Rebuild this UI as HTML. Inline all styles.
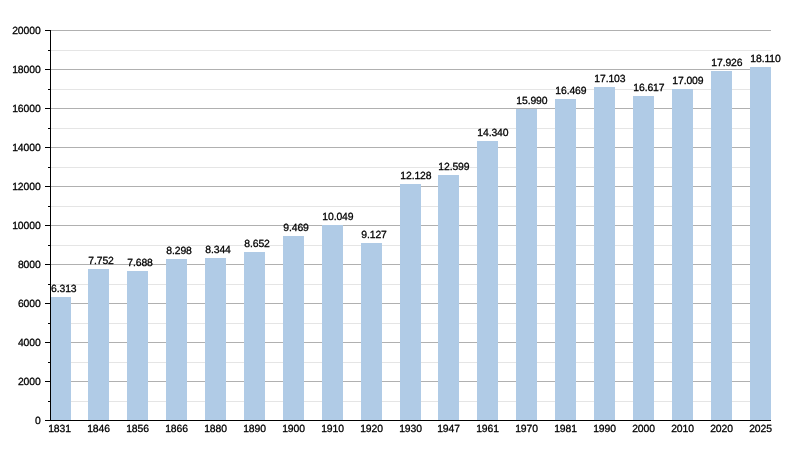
<!DOCTYPE html>
<html><head><meta charset="utf-8"><title>Chart</title>
<style>
html,body{margin:0;padding:0;background:#fff;}
body{width:800px;height:450px;overflow:hidden;}
svg{display:block;}
svg{will-change:transform;}
text{font-family:"Liberation Sans",sans-serif;font-size:10.4px;letter-spacing:-0.1px;fill:#000;stroke:#000;stroke-width:0.28px;text-rendering:geometricPrecision;}
</style></head><body>
<svg width="800" height="450" viewBox="0 0 800 450">
<rect width="800" height="450" fill="#fff"/>
<g shape-rendering="crispEdges">
<rect x="51" y="401.0" width="720" height="1" fill="#e5e5e5"/>
<rect x="51" y="381.0" width="720" height="1" fill="#b0b0b0"/>
<rect x="51" y="362.0" width="720" height="1" fill="#e5e5e5"/>
<rect x="51" y="342.0" width="720" height="1" fill="#b0b0b0"/>
<rect x="51" y="323.0" width="720" height="1" fill="#e5e5e5"/>
<rect x="51" y="303.0" width="720" height="1" fill="#b0b0b0"/>
<rect x="51" y="284.0" width="720" height="1" fill="#e5e5e5"/>
<rect x="51" y="264.0" width="720" height="1" fill="#b0b0b0"/>
<rect x="51" y="245.0" width="720" height="1" fill="#e5e5e5"/>
<rect x="51" y="225.0" width="720" height="1" fill="#b0b0b0"/>
<rect x="51" y="206.0" width="720" height="1" fill="#e5e5e5"/>
<rect x="51" y="186.0" width="720" height="1" fill="#b0b0b0"/>
<rect x="51" y="167.0" width="720" height="1" fill="#e5e5e5"/>
<rect x="51" y="147.0" width="720" height="1" fill="#b0b0b0"/>
<rect x="51" y="128.0" width="720" height="1" fill="#e5e5e5"/>
<rect x="51" y="108.0" width="720" height="1" fill="#b0b0b0"/>
<rect x="51" y="89.0" width="720" height="1" fill="#e5e5e5"/>
<rect x="51" y="69.0" width="720" height="1" fill="#b0b0b0"/>
<rect x="51" y="50.0" width="720" height="1" fill="#e5e5e5"/>
<rect x="51" y="30.0" width="720" height="1" fill="#b0b0b0"/>
</g>
<g fill="#b0cbe6">
<rect x="51.00" y="297.00" width="20.00" height="123.00"/>
<rect x="88.00" y="269.00" width="21.00" height="151.00"/>
<rect x="127.00" y="271.00" width="21.00" height="149.00"/>
<rect x="166.00" y="259.00" width="21.00" height="161.00"/>
<rect x="205.00" y="258.00" width="21.00" height="162.00"/>
<rect x="244.00" y="252.00" width="21.00" height="168.00"/>
<rect x="283.00" y="236.00" width="21.00" height="184.00"/>
<rect x="322.00" y="225.00" width="21.00" height="195.00"/>
<rect x="361.00" y="243.00" width="21.00" height="177.00"/>
<rect x="400.00" y="184.00" width="21.00" height="236.00"/>
<rect x="438.00" y="175.00" width="21.00" height="245.00"/>
<rect x="477.00" y="141.00" width="21.00" height="279.00"/>
<rect x="516.00" y="109.00" width="21.00" height="311.00"/>
<rect x="555.00" y="99.00" width="21.00" height="321.00"/>
<rect x="594.00" y="87.00" width="21.00" height="333.00"/>
<rect x="633.00" y="96.00" width="21.00" height="324.00"/>
<rect x="672.00" y="89.00" width="21.00" height="331.00"/>
<rect x="711.00" y="71.00" width="21.00" height="349.00"/>
<rect x="750.00" y="67.00" width="21.00" height="353.00"/>
</g>
<g>
<text x="51.00" y="291.70">6.313</text>
<text x="88.30" y="263.70">7.752</text>
<text x="127.30" y="265.70">7.688</text>
<text x="166.30" y="253.70">8.298</text>
<text x="205.30" y="252.70">8.344</text>
<text x="244.30" y="246.70">8.652</text>
<text x="283.30" y="230.70">9.469</text>
<text x="322.30" y="219.70">10.049</text>
<text x="361.30" y="237.70">9.127</text>
<text x="400.30" y="178.70">12.128</text>
<text x="438.30" y="169.70">12.599</text>
<text x="477.30" y="135.70">14.340</text>
<text x="516.30" y="103.70">15.990</text>
<text x="555.30" y="93.70">16.469</text>
<text x="594.30" y="81.70">17.103</text>
<text x="633.30" y="90.70">16.617</text>
<text x="672.30" y="83.70">17.009</text>
<text x="711.30" y="65.70">17.926</text>
<text x="750.30" y="61.70">18.110</text>
</g>
<g fill="#000" shape-rendering="crispEdges">
<rect x="50" y="30" width="1" height="391"/>
<rect x="45" y="420" width="726" height="1"/>
<rect x="48" y="401" width="2" height="1"/>
<rect x="45" y="381" width="5" height="1"/>
<rect x="48" y="362" width="2" height="1"/>
<rect x="45" y="342" width="5" height="1"/>
<rect x="48" y="323" width="2" height="1"/>
<rect x="45" y="303" width="5" height="1"/>
<rect x="48" y="284" width="2" height="1"/>
<rect x="45" y="264" width="5" height="1"/>
<rect x="48" y="245" width="2" height="1"/>
<rect x="45" y="225" width="5" height="1"/>
<rect x="48" y="206" width="2" height="1"/>
<rect x="45" y="186" width="5" height="1"/>
<rect x="48" y="167" width="2" height="1"/>
<rect x="45" y="147" width="5" height="1"/>
<rect x="48" y="128" width="2" height="1"/>
<rect x="45" y="108" width="5" height="1"/>
<rect x="48" y="89" width="2" height="1"/>
<rect x="45" y="69" width="5" height="1"/>
<rect x="48" y="50" width="2" height="1"/>
<rect x="45" y="30" width="5" height="1"/>
</g>
<g text-anchor="end">
<text x="40.6" y="424.4">0</text>
<text x="40.6" y="385.4">2000</text>
<text x="40.6" y="346.4">4000</text>
<text x="40.6" y="307.4">6000</text>
<text x="40.6" y="268.4">8000</text>
<text x="40.6" y="229.3">10000</text>
<text x="40.6" y="190.3">12000</text>
<text x="40.6" y="151.3">14000</text>
<text x="40.6" y="112.3">16000</text>
<text x="40.6" y="73.3">18000</text>
<text x="40.6" y="34.4">20000</text>
</g>
<g text-anchor="middle">
<text x="59.50" y="431.65">1831</text>
<text x="98.50" y="431.65">1846</text>
<text x="137.50" y="431.65">1856</text>
<text x="176.50" y="431.65">1866</text>
<text x="215.50" y="431.65">1880</text>
<text x="254.50" y="431.65">1890</text>
<text x="293.50" y="431.65">1900</text>
<text x="332.50" y="431.65">1910</text>
<text x="371.50" y="431.65">1920</text>
<text x="410.50" y="431.65">1930</text>
<text x="448.50" y="431.65">1947</text>
<text x="487.50" y="431.65">1961</text>
<text x="526.50" y="431.65">1970</text>
<text x="565.50" y="431.65">1981</text>
<text x="604.50" y="431.65">1990</text>
<text x="643.50" y="431.65">2000</text>
<text x="682.50" y="431.65">2010</text>
<text x="721.50" y="431.65">2020</text>
<text x="760.50" y="431.65">2025</text>
</g>
</svg>
</body></html>
